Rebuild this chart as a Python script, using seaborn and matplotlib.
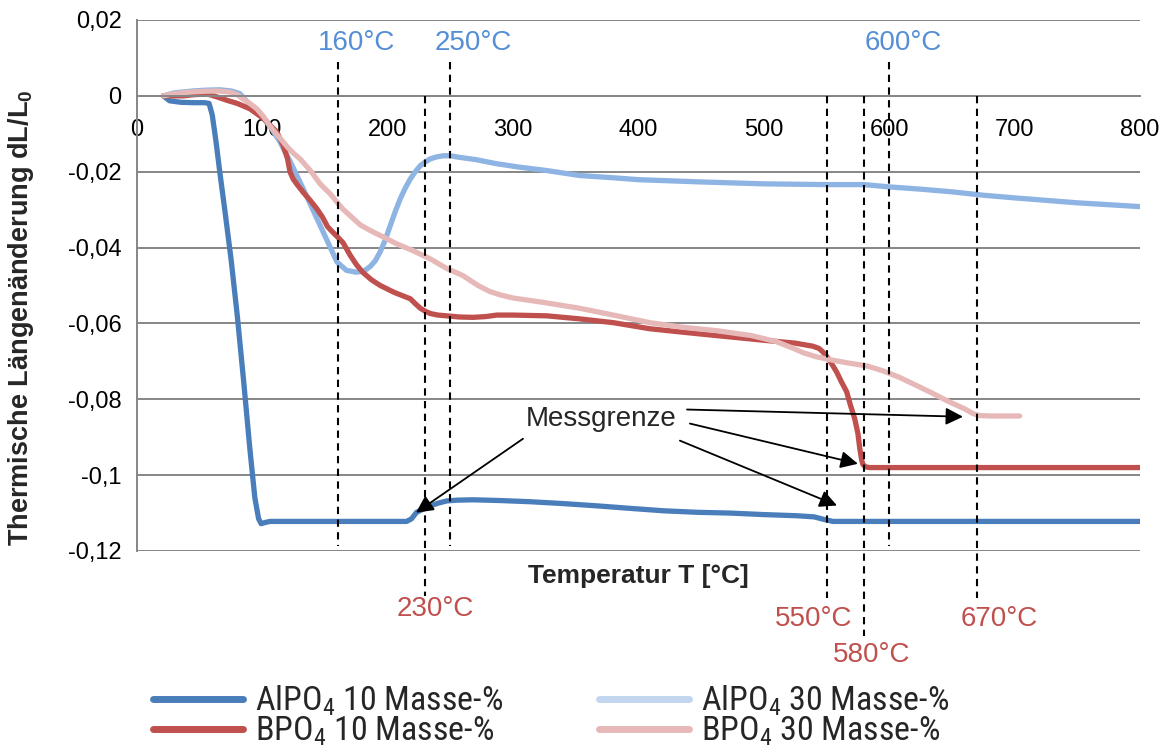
import matplotlib
matplotlib.use("Agg")
import matplotlib.pyplot as plt
from matplotlib import font_manager
from matplotlib.lines import Line2D
import numpy as np
import pandas as pd
import seaborn as sns

# ---- measured series: temperature [°C] and relative length change dL/L0 ----
al10_T = [21, 26, 35, 45, 54, 57.5, 60, 63, 66, 70, 75, 80, 85, 90, 94, 97, 99, 102,
          106, 150, 200, 215, 219, 223, 228, 234, 240, 247, 255, 268, 290, 313, 340,
          367, 395, 420, 447, 473, 500, 526, 540, 547, 555, 600, 700, 800]
al10_dL = [0, -0.0013, -0.0017, -0.0018, -0.0018, -0.002, -0.005, -0.012, -0.02, -0.03,
           -0.043, -0.058, -0.075, -0.093, -0.106, -0.1115, -0.1128, -0.1125, -0.1122,
           -0.1122, -0.1122, -0.1122, -0.1115, -0.1098, -0.109, -0.1081, -0.1074,
           -0.1068, -0.1066, -0.1065, -0.1067, -0.107, -0.1075, -0.1081, -0.1088,
           -0.1094, -0.1098, -0.110, -0.1104, -0.1107, -0.111, -0.1116, -0.1122,
           -0.1122, -0.1122, -0.1122]

al30_T = [21, 30, 45, 55, 66, 75, 82, 88, 94, 100, 107, 114, 122, 130, 140, 151, 159.5,
          167, 175, 181, 186, 190, 194, 198, 202, 206, 210, 214, 218, 222, 226, 230,
          234, 239, 244, 250, 255, 270, 287, 305, 327, 353, 380, 400, 450, 500, 550,
          580, 600, 625, 650, 675, 700, 750, 800]
al30_dL = [0, 0.0008, 0.0013, 0.0015, 0.0016, 0.0013, 0.0006, -0.0016, -0.0035, -0.0055,
           -0.0085, -0.0121, -0.0172, -0.0227, -0.0298, -0.0377, -0.0438, -0.046,
           -0.0465, -0.0462, -0.045, -0.0435, -0.0411, -0.038, -0.0342, -0.0305,
           -0.0271, -0.0243, -0.0219, -0.02, -0.0184, -0.0174, -0.0166, -0.0161,
           -0.0158, -0.0158, -0.0161, -0.0168, -0.0179, -0.0188, -0.0197, -0.021,
           -0.0216, -0.0221, -0.0227, -0.0232, -0.0234, -0.0234, -0.024, -0.0246,
           -0.0253, -0.0262, -0.0269, -0.0282, -0.0292]

b10_T = [21, 30, 37, 45, 56, 64, 72, 80, 90, 101, 106, 111.5, 116.5, 120, 122, 124.5,
         128, 132.5, 138, 143.5, 148, 152, 156, 160, 164.5, 170, 175, 180, 187, 194,
         205, 218, 222, 226, 230, 234, 240, 247, 257, 268, 278, 287, 300, 327, 353, 380,
         409, 435, 462, 502, 525, 539, 544, 547, 552, 558, 562, 566, 569, 572.5, 575,
         576.5, 578, 579, 581, 584, 600, 700, 800]
b10_dL = [0, 0, 0, 0.0003, 0.0005, -0.0003, -0.0012, -0.002, -0.0034, -0.006, -0.0077,
          -0.0095, -0.013, -0.0165, -0.020, -0.0219, -0.0235, -0.0254, -0.0275, -0.0298,
          -0.032, -0.0345, -0.0359, -0.0372, -0.0388, -0.042, -0.0445, -0.0465, -0.0485,
          -0.050, -0.0518, -0.0535, -0.0548, -0.056, -0.0568, -0.0574, -0.0578, -0.058,
          -0.0583, -0.0584, -0.0582, -0.0578, -0.0578, -0.058, -0.0588, -0.0598,
          -0.0614, -0.0623, -0.0632, -0.0645, -0.0652, -0.066, -0.0666, -0.0675,
          -0.0695, -0.0728, -0.0755, -0.078, -0.0815, -0.0852, -0.089, -0.093, -0.096,
          -0.0972, -0.0978, -0.098, -0.098, -0.098, -0.098]

b30_T = [21, 30, 42, 53, 64, 74, 80, 84.5, 90, 95.5, 101, 106, 111, 116.5, 120, 125,
         130, 139, 146, 154, 164, 172, 178, 186, 197, 207, 220, 234, 247, 260, 272,
         281.5, 290, 300, 325, 353, 380, 409, 435, 462, 490, 510, 523, 532, 542, 555,
         568.5, 582, 595, 608, 622, 635, 648, 660, 667, 672, 680, 704]
b30_dL = [0, 0.0006, 0.001, 0.0012, 0.0013, 0.001, 0.0003, -0.0008, -0.002, -0.0034,
          -0.0055, -0.0079, -0.010, -0.0121, -0.0135, -0.0152, -0.0166, -0.020, -0.0232,
          -0.0258, -0.0298, -0.0322, -0.034, -0.0355, -0.0373, -0.039, -0.0408, -0.043,
          -0.0455, -0.0474, -0.050, -0.0516, -0.0525, -0.0533, -0.0545, -0.056, -0.0578,
          -0.0598, -0.061, -0.0619, -0.0632, -0.0648, -0.0665, -0.0678, -0.0688,
          -0.0697, -0.0705, -0.0712, -0.0725, -0.0742, -0.0764, -0.0785, -0.0807,
          -0.0825, -0.0838, -0.0843, -0.0844, -0.0844]

series_labels = ["AlPO$_4$ 10 Masse-%", "BPO$_4$ 10 Masse-%",
                 "AlPO$_4$ 30 Masse-%", "BPO$_4$ 30 Masse-%"]
series_colors = ["#4A7EBB", "#C0504D", "#8EB4E3", "#E6B9B8"]
legend_colors = ["#4A7EBB", "#C0504D", "#C2D6EF", "#E6B9B8"]

# characteristic temperatures marked by dashed lines
marks_upper = [160, 250, 600]       # AlPO4 30
marks_lower = [230, 550, 580, 670]  # BPO4 / AlPO4 10

x_ticks = [0, 100, 200, 300, 400, 500, 600, 700, 800]
y_ticks = [0.02, 0, -0.02, -0.04, -0.06, -0.08, -0.1, -0.12]
y_ticklabels = ["0,02", "0", "-0,02", "-0,04", "-0,06", "-0,08", "-0,1", "-0,12"]

# ---- style ----
sns.set_theme(style="white")
names = {f.name for f in font_manager.fontManager.ttflist}
base_font = "Liberation Sans" if "Liberation Sans" in names else "DejaVu Sans"
narrow_font = next((n for n in ["Liberation Sans Narrow", "Roboto Condensed",
                                "DejaVu Sans Condensed"] if n in names), base_font)
plt.rcParams["font.family"] = [base_font, "DejaVu Sans"]
plt.rcParams["mathtext.fontset"] = "custom"
plt.rcParams["mathtext.rm"] = base_font
plt.rcParams["mathtext.default"] = "regular"

fig = plt.figure(figsize=(11.69, 7.47), dpi=100)
ax = fig.add_axes([137 / 1169, 1 - 551 / 747, 1003 / 1169, 531 / 747])

grid_col = "#868686"
ax.set_xlim(0, 800)
ax.set_ylim(-0.12, 0.02)
ax.set_yticks(y_ticks)
ax.set_yticklabels(y_ticklabels)
ax.set_xticks(x_ticks)
ax.set_xticklabels([str(t) for t in x_ticks])
ax.yaxis.grid(True, color=grid_col, lw=1.4)
ax.xaxis.grid(False)
ax.set_axisbelow(True)
for side in ["top", "right"]:
    ax.spines[side].set_visible(False)
ax.spines["bottom"].set_position(("data", 0))
for side in ["left", "bottom"]:
    ax.spines[side].set_color(grid_col)
    ax.spines[side].set_linewidth(1.4)
ax.tick_params(axis="both", direction="out", length=7, width=1.4, color=grid_col,
               labelsize=17, labelcolor="black")
ax.tick_params(axis="x", pad=10)
ax.tick_params(axis="y", pad=4)

# ---- curves ----
frames = []
for lab, T, d in [(series_labels[0], al10_T, al10_dL), (series_labels[1], b10_T, b10_dL),
                  (series_labels[2], al30_T, al30_dL), (series_labels[3], b30_T, b30_dL)]:
    frames.append(pd.DataFrame({"T": T, "dL": d, "Serie": lab}))
df = pd.concat(frames, ignore_index=True)

draw_order = [series_labels[2], series_labels[0], series_labels[1], series_labels[3]]
palette = dict(zip(series_labels, series_colors))
for lab in draw_order:
    sub = df[df["Serie"] == lab]
    sns.lineplot(data=sub, x="T", y="dL", color=palette[lab], lw=3.8,
                 estimator=None, sort=False, ax=ax, legend=False,
                 solid_joinstyle="round", solid_capstyle="round")

ax.set_xlabel("Temperatur T [°C]", fontsize=19, fontweight="bold")
ax.xaxis.set_label_coords(0.5, -0.024)
ax.set_ylabel("Thermische Längenänderung dL/L$_0$", fontsize=19.5, fontweight="bold")
ax.yaxis.set_label_coords(-0.101, 0.44)

# ---- dashed temperature markers ----
dash = (0, (3.5, 2.6))
upper_span = (0.009, -0.1186)
lower_ends = {230: -0.1318, 550: -0.1325, 580: -0.1423, 670: -0.1325}
for t in marks_upper:
    ax.plot([t, t], upper_span, color="black", lw=1.5, ls=dash, clip_on=False, zorder=3)
for t in marks_lower:
    ax.plot([t, t], [0, lower_ends[t]], color="black", lw=1.5, ls=dash, clip_on=False,
            zorder=3)

blue_txt = "#558ED5"
red_txt = "#C0504D"
for t, dx in zip(marks_upper, [15, 18, 11]):
    ax.text(t + dx, 0.0140, f"{t}°C", color=blue_txt, fontsize=20, ha="center",
            va="center")
lower_pos = {230: (8, -0.1354), 550: (-10, -0.1378), 580: (6, -0.1473),
             670: (18, -0.1380)}
for t in marks_lower:
    dx, y = lower_pos[t]
    ax.text(t + dx, y, f"{t}°C", color=red_txt, fontsize=20, ha="center",
            va="center", clip_on=False)

# ---- measurement limit annotations ----
ax.text(370, -0.0851, "Messgrenze", fontsize=20, ha="center", va="center")
arrows = [((307.9, -0.0904), (222.5, -0.1099)),
          ((438.7, -0.0827), (658.8, -0.0846)),
          ((441.0, -0.0864), (575.0, -0.0970)),
          ((433.0, -0.0909), (558.3, -0.1080))]
for start, tip in arrows:
    ax.annotate("", xy=tip, xytext=start,
                arrowprops=dict(arrowstyle="-|>", color="black", lw=1.3,
                                mutation_scale=26, shrinkA=0, shrinkB=0),
                zorder=5)

# ---- legend ----
handles = [Line2D([], [], color=c, lw=5) for c in legend_colors]
fig.legend(handles, series_labels, loc="upper left",
           bbox_to_anchor=(153 / 1169, 1 - 684 / 747), ncol=2, frameon=False,
           prop={"family": narrow_font, "size": 24.5}, handlelength=2.65,
           handletextpad=0.35, columnspacing=2.8, labelspacing=-0.1,
           borderpad=0, borderaxespad=0)

fig.savefig("out.png", dpi=100)
